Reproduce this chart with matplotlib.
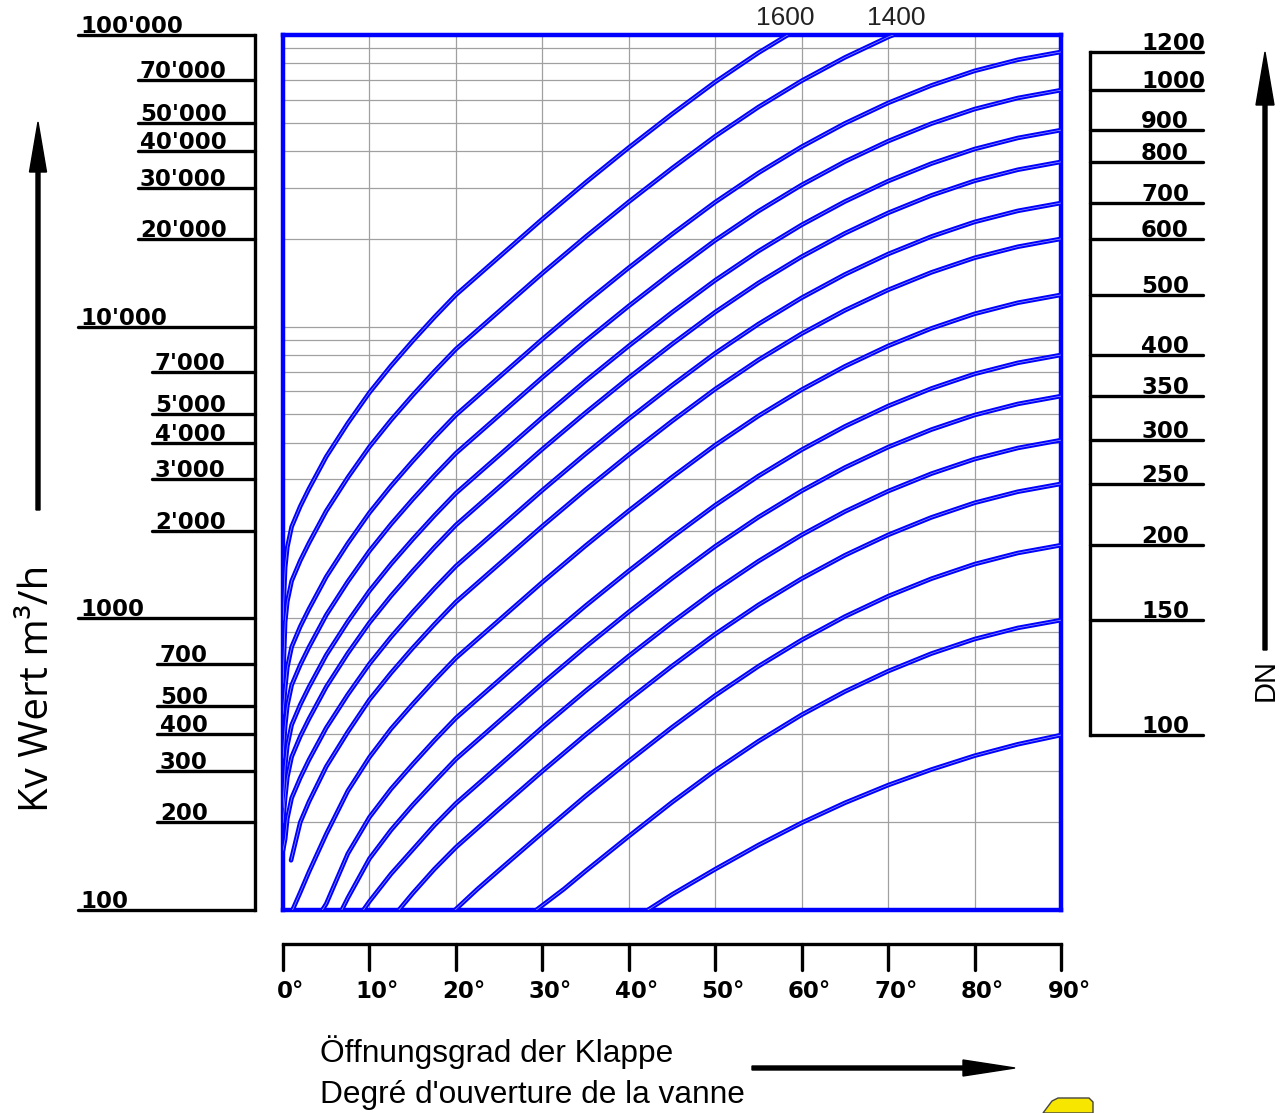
import matplotlib
matplotlib.use('Agg')
import matplotlib.pyplot as plt
import matplotlib.transforms as mtrans
from matplotlib.patches import FancyArrow, Polygon

# ---------------- data ----------------
kv_ticks = [100000, 70000, 50000, 40000, 30000, 20000, 10000, 7000, 5000, 4000,
            3000, 2000, 1000, 700, 500, 400, 300, 200, 100]
kv_labels = ["100'000", "70'000", "50'000", "40'000", "30'000", "20'000", "10'000",
             "7'000", "5'000", "4'000", "3'000", "2'000", "1000", "700", "500",
             "400", "300", "200", "100"]
angle_ticks = [0, 10, 20, 30, 40, 50, 60, 70, 80, 90]
angle_labels = ["0°", "10°", "20°", "30°", "40°", "50°", "60°", "70°", "80°", "90°"]

# Kv curves per nominal diameter DN (opening angle in degrees, Kv in m3/h)
deg_dn100 = [42.2, 45, 50, 55, 60, 65, 70, 75, 80, 85, 90]
kv_dn100 = [100, 113, 138, 167, 199, 233, 268, 303, 338, 370, 398]
deg_dn150 = [29.3, 32.5, 35, 40, 45, 50, 55, 60, 65, 70, 75, 80, 85, 90]
kv_dn150 = [100, 118, 136, 179, 234, 301, 379, 467, 561, 659, 757, 849, 927, 986]
deg_dn200 = [19.9, 22.5, 25, 30, 35, 40, 45, 50, 55, 60, 65, 70, 75, 80, 85, 90]
kv_dn200 = [100, 118, 137, 184, 246, 324, 423, 544, 685, 843, 1014, 1191, 1367, 1534,
            1675, 1782]
deg_dn250 = [13.4, 15, 17.5, 20, 25, 30, 35, 40, 45, 50, 55, 60, 65, 70, 75, 80, 85, 90]
kv_dn250 = [100, 114, 138, 164, 222, 299, 399, 526, 686, 883, 1112, 1368, 1645, 1932,
            2218, 2489, 2717, 2891]
deg_dn300 = [9.3, 10, 12.5, 15, 17.5, 20, 25, 30, 35, 40, 45, 50, 55, 60, 65, 70, 75, 80,
             85, 90]
kv_dn300 = [100, 107, 133, 161, 195, 232, 313, 423, 564, 743, 968, 1247, 1570, 1932, 2323,
            2729, 3133, 3515, 3837, 4083]
deg_dn350 = [6.8, 7.5, 10, 12.5, 15, 17.5, 20, 25, 30, 35, 40, 45, 50, 55, 60, 65, 70, 75,
             80, 85, 90]
kv_dn350 = [100, 110, 150, 188, 229, 275, 329, 444, 598, 798, 1052, 1371, 1766, 2223, 2735,
            3289, 3864, 4436, 4977, 5433, 5781]
deg_dn400 = [4.55, 5, 7.5, 10, 12.5, 15, 17.5, 20, 25, 30, 35, 40, 45, 50, 55, 60, 65, 70,
             75, 80, 85, 90]
kv_dn400 = [100, 105, 156, 208, 260, 316, 381, 455, 614, 828, 1104, 1455, 1897, 2443, 3076,
            3784, 4550, 5345, 6137, 6886, 7516, 7998]
deg_dn500 = [1.1, 2, 3, 5, 7.5, 10, 12.5, 15, 17.5, 20, 25, 30, 35, 40, 45, 50, 55, 60, 65,
             70, 75, 80, 85, 90]
kv_dn500 = [100, 115, 135, 182, 256, 334, 418, 508, 612, 731, 986, 1330, 1774, 2339, 3048,
            3926, 4943, 6081, 7311, 8590, 9863, 11066, 12078, 12853]
deg_dn600 = [0.93, 2, 3, 5, 7.5, 10, 12.5, 15, 17.5, 20, 25, 30, 35, 40, 45, 50, 55, 60, 65,
             70, 75, 80, 85, 90]
kv_dn600 = [148, 200, 235, 310, 408, 526, 650, 791, 953, 1138, 1535, 2070, 2761, 3639, 4743,
            6110, 7692, 9463, 11377, 13367, 15347, 17220, 18794, 20000]
deg_upper = [0, 0.25, 0.5, 1, 2, 3, 5, 7.5, 10, 12.5, 15, 17.5, 20, 25, 30, 35, 40, 45, 50,
             55, 60, 65, 70, 75, 80, 85, 90]
kv_dn700 = [160, 175, 206, 242, 284, 327, 421, 548, 698, 863, 1050, 1265, 1510, 2037, 2748,
            3664, 4831, 6295, 8110, 10209, 12560, 15101, 17742, 20370, 22856, 24946, 26546]
kv_dn800 = [199, 243, 285, 335, 394, 452, 582, 759, 966, 1194, 1452, 1750, 2089, 2818, 3802,
            5070, 6683, 8710, 11220, 14125, 17378, 20893, 24547, 28184, 31623, 34514, 36728]
kv_dn900 = [224, 312, 366, 431, 506, 581, 748, 975, 1242, 1535, 1866, 2249, 2685, 3622, 4886,
            6516, 8590, 11194, 14421, 18155, 22336, 26853, 31550, 36224, 40644, 44361, 47206]
kv_dn1000 = [332, 428, 502, 590, 693, 796, 1026, 1337, 1702, 2104, 2559, 3083, 3681, 4966,
             6699, 8933, 11776, 15346, 19770, 24888, 30619, 36813, 43252, 49659, 55718,
             60813, 64714]
kv_dn1200 = [470, 578, 679, 798, 938, 1076, 1387, 1807, 2301, 2844, 3459, 4169, 4977, 6714,
             9057, 12078, 15922, 20749, 26730, 33651, 41400, 49773, 58479, 67143, 75335,
             82224, 87498]
deg_dn1400 = [0, 0.25, 0.5, 1, 2, 3, 5, 7.5, 10, 12.5, 15, 17.5, 20, 25, 30, 35, 40, 45, 50,
              55, 60, 65, 70, 75]
kv_dn1400 = [600, 973, 1143, 1343, 1578, 1811, 2333, 3041, 3873, 4786, 5821, 7015, 8375,
             11298, 15240, 20324, 26791, 34914, 44978, 56624, 69662, 83752, 98400, 112979]
deg_dn1600 = [0, 0.25, 0.5, 1, 2, 3, 5, 7.5, 10, 12.5, 15, 17.5, 20, 25, 30, 35, 40, 45, 50,
              55, 60]
kv_dn1600 = [986, 1493, 1754, 2061, 2422, 2780, 3582, 4668, 5944, 7347, 8935, 10767, 12856,
             17342, 23394, 31197, 41125, 53593, 69041, 86918, 106932]

dn_scale = ['100', '150', '200', '250', '300', '350', '400', '500', '600', '700', '800',
            '900', '1000', '1200']
top_labels = ['1600', '1400']

curves = [(deg_dn100, kv_dn100), (deg_dn150, kv_dn150), (deg_dn200, kv_dn200),
          (deg_dn250, kv_dn250), (deg_dn300, kv_dn300), (deg_dn350, kv_dn350),
          (deg_dn400, kv_dn400), (deg_dn500, kv_dn500), (deg_dn600, kv_dn600),
          (deg_upper, kv_dn700), (deg_upper, kv_dn800), (deg_upper, kv_dn900),
          (deg_upper, kv_dn1000), (deg_upper, kv_dn1200), (deg_dn1400, kv_dn1400),
          (deg_dn1600, kv_dn1600)]

# ---------------- figure ----------------
W, H = 1287, 1113
fig = plt.figure(figsize=(W / 100, H / 100), dpi=100)
PL, PR, PT, PB = 283, 1061, 35, 910
ax = fig.add_axes([PL / W, (H - PB) / H, (PR - PL) / W, (PB - PT) / H])
ax.set_yscale('log')
ax.set_xlim(0, 90)
ax.set_ylim(100, 100000)


def axx(px):
    return (px - PL) / (PR - PL)


def axy(py):
    return (PB - py) / (PB - PT)


BLUE = '#0000ff'
GRID = '#a0a0a0'

ax.set_xticks(angle_ticks)
ax.grid(True, which='major', axis='x', color=GRID, lw=0.9)
ax.grid(True, which='both', axis='y', color=GRID, lw=0.9)
ax.tick_params(which='both', length=0, labelleft=False, labelbottom=False)
ax.yaxis.set_minor_formatter(matplotlib.ticker.NullFormatter())
for s in ax.spines.values():
    s.set_color(BLUE)
    s.set_linewidth(3.2)
ax.set_axisbelow(True)

for d, k in curves:
    ax.plot(d, k, color=BLUE, lw=3.3, solid_capstyle='round', solid_joinstyle='round',
            zorder=3)
    ax.plot(d, k, color='#9a9aff', lw=0.5, zorder=4)

# ---------------- left Kv scale ----------------
ytr = ax.get_yaxis_transform()
txt_tr = mtrans.offset_copy(ytr, fig=fig, x=0, y=2, units='dots')
ax.plot([axx(255), axx(255)], [100, 100000], color='black', lw=2.4,
        transform=ytr, clip_on=False)
for v, lab in zip(kv_ticks, kv_labels):
    if v in (100, 1000, 10000, 100000):
        x0, xt = 78, 80
    elif v >= 20000:
        x0, xt = 138, 140
    elif v >= 2000:
        x0, xt = 152, 155
    else:
        x0, xt = 157, 160
    ax.plot([axx(x0), axx(255)], [v, v], color='black', lw=2.4, transform=ytr,
            clip_on=False, solid_capstyle='round')
    ax.text(axx(xt), v, lab, transform=txt_tr, ha='left', va='baseline',
            fontsize=16.5, fontweight='bold', family='DejaVu Sans')

# ---------------- right DN scale ----------------
dn_end = [k[-1] for d, k in curves[:14]]
ax.plot([axx(1090), axx(1090)], [dn_end[0], dn_end[-1]], color='black', lw=2.4,
        transform=ytr, clip_on=False)
for v, lab in zip(dn_end, dn_scale):
    ax.plot([axx(1090), axx(1203)], [v, v], color='black', lw=2.4, transform=ytr,
            clip_on=False, solid_capstyle='round')
    ax.text(axx(1141), v, lab, transform=txt_tr, ha='left', va='baseline',
            fontsize=16.5, fontweight='bold', family='DejaVu Sans')

# top labels for curves leaving the top edge
xtr = ax.get_xaxis_transform()
ax.text(58.1, axy(18), top_labels[0], transform=xtr, ha='center', va='center',
        fontsize=19, family='Liberation Sans', color='#222222')
ax.text(70.9, axy(18), top_labels[1], transform=xtr, ha='center', va='center',
        fontsize=19, family='Liberation Sans', color='#222222')

# ---------------- bottom angle scale ----------------
ax.plot([0, 90], [axy(944), axy(944)], color='black', lw=2.4, transform=xtr,
        clip_on=False)
lab_tr = mtrans.offset_copy(xtr, fig=fig, x=8, y=0, units='dots')
for a, lab in zip(angle_ticks, angle_labels):
    ax.plot([a, a], [axy(944), axy(970)], color='black', lw=2.4, transform=xtr,
            clip_on=False, solid_capstyle='round')
    ax.text(a, axy(991), lab, transform=lab_tr, ha='center', va='center',
            fontsize=16.5, fontweight='bold', family='DejaVu Sans')

# ---------------- overlay: titles, arrows ----------------
ov = fig.add_axes([0, 0, 1, 1], zorder=-1)
ov.set_xlim(0, W)
ov.set_ylim(0, H)
ov.axis('off')

ov.text(320, H - 1052, 'Öffnungsgrad der Klappe', ha='left', va='center',
        fontsize=22.8, family='Liberation Sans')
ov.text(320, H - 1095, "Degré d'ouverture de la vanne", ha='left', va='center',
        fontsize=22.8, family='Liberation Sans')
ov.text(38, H - 688, 'Kv Wert m³/h', rotation=90, ha='center', va='center',
        fontsize=29, family='Open Sans')
ov.text(1266, H - 680, 'DN', rotation=90, ha='center', va='center',
        fontsize=21, family='Liberation Sans')

ov.add_patch(FancyArrow(752, H - 1068, 263, 0, width=4, head_width=16, head_length=52,
                        length_includes_head=True, color='black'))
ov.add_patch(FancyArrow(38, H - 510, 0, 388, width=4, head_width=17, head_length=50,
                        length_includes_head=True, color='black'))
ov.add_patch(FancyArrow(1265, H - 650, 0, 598, width=4, head_width=18, head_length=53,
                        length_includes_head=True, color='black'))

ov.add_patch(Polygon([(1043, 0), (1052, 12), (1058, 15), (1089, 15), (1093, 11), (1093, 0)],
                     closed=True, facecolor='#f7e600', edgecolor='#444444', lw=1))

fig.savefig('out.png', dpi=100)
